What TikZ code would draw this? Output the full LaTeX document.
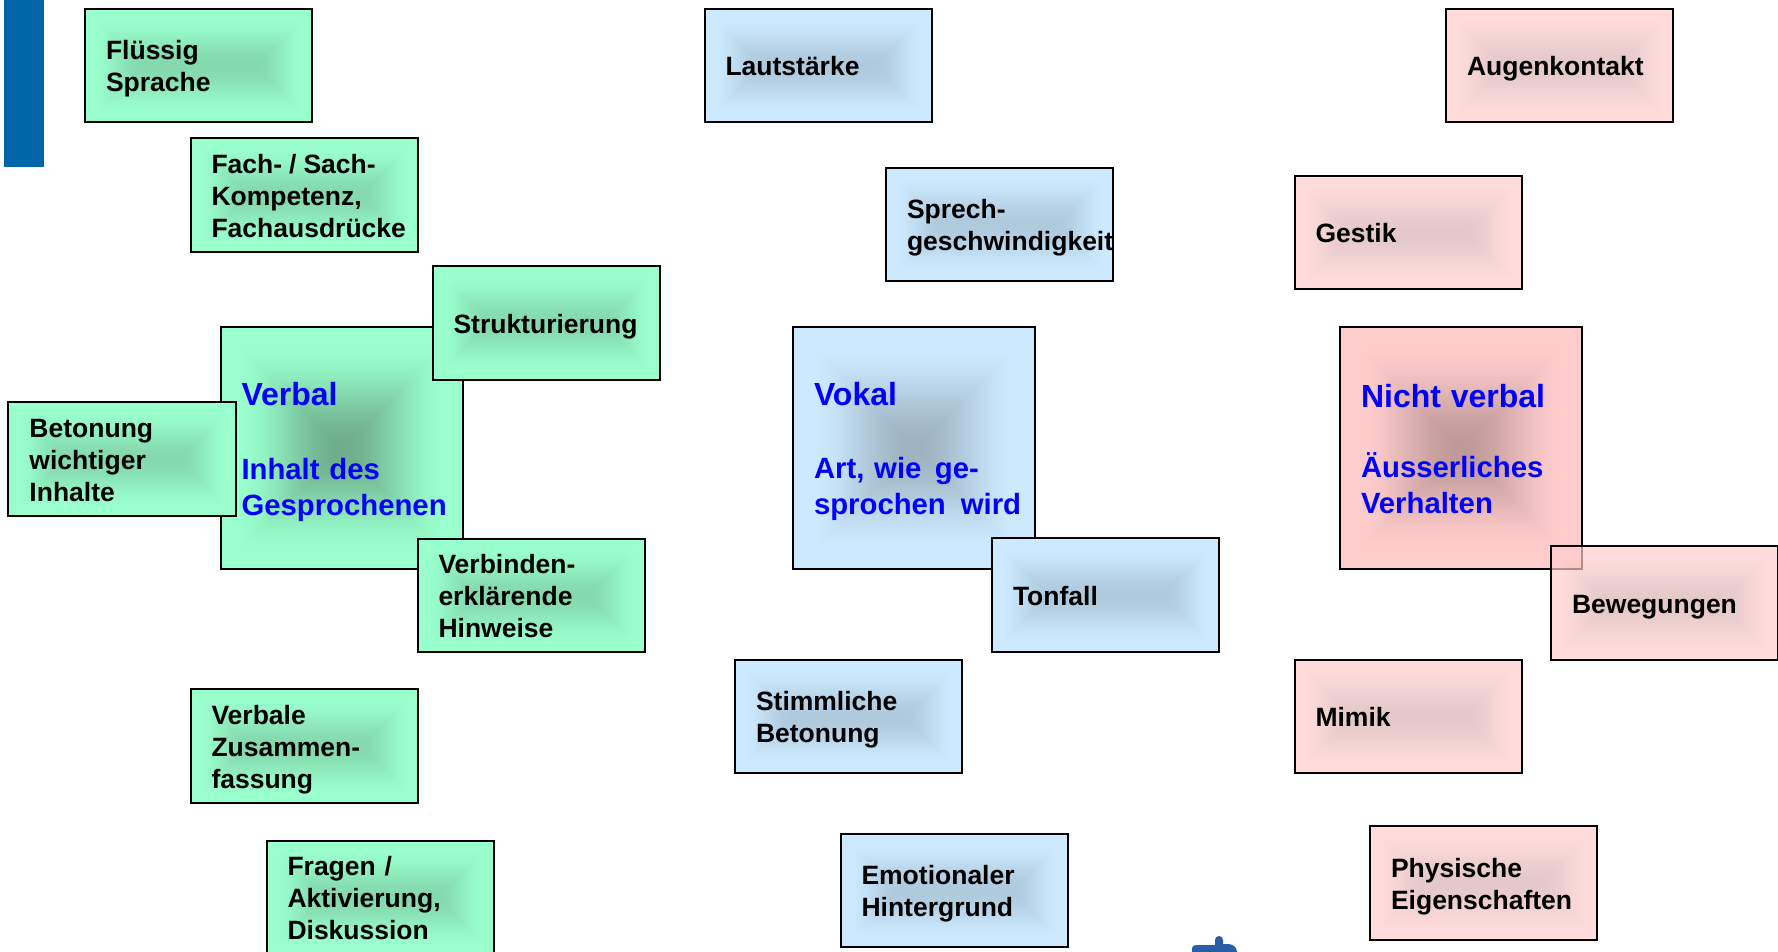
\documentclass[tikz,border=0pt]{standalone}
\usepackage{fontspec}
\setmainfont{Liberation Sans}
\hyphenpenalty=10000
\exhyphenpenalty=10000
\hbadness=10000
\hfuzz=100bp
\definecolor{barblue}{HTML}{0066AA}
\definecolor{logoblue}{HTML}{2A5DA8}
\definecolor{headblue}{HTML}{0000FF}
\newcommand\defshade[9]{\pgfdeclarefunctionalshading{#1}{\pgfpoint{-50bp}{-50bp}}{\pgfpoint{50bp}{50bp}}{}{abs exch abs #2 mul #3 sub 2 copy lt {exch} if pop 25 div 0.86 div dup 1 gt {pop 1} if dup dup mul exch 2 mul 3 exch sub mul dup #7 mul #4 add exch dup #8 mul #5 add exch #9 mul #6 add}}
\defshade{greensmall}{2}{25}{.52}{.85}{.68}{.08}{.15}{.12}
\defshade{greenbig}{1}{0}{.435}{.68}{.55}{.165}{.32}{.25}
\defshade{bluesmall}{2}{25}{.686}{.79}{.867}{.114}{.124}{.133}
\defshade{bluebig}{1}{0}{.616}{.70}{.753}{.184}{.214}{.247}
\defshade{pinksmall}{2}{25}{.855}{.70}{.70}{.145}{.10}{.10}
\defshade{pinkbig}{1}{0}{.75}{.60}{.60}{.25}{.20}{.20}
\newcommand\st{\rule[-5.8bp]{0pt}{32bp}}
\newcommand\bigtop[1]{\rule{0pt}{#1bp}}
\newcommand\bigend{\rule[-11bp]{0pt}{0pt}}
\tikzset{
  x=1bp,y=-1bp,
  card/.style={draw=black,line width=2bp,rectangle,outer sep=0pt,inner ysep=0pt,
    inner xsep=21bp,align=left,text=black,
    font=\bfseries\fontsize{26.5bp}{32bp}\selectfont},
  smallcard/.style={card,minimum width=227bp,minimum height=113.5bp,text width=185bp},
  bigcard/.style={card,minimum width=242bp,minimum height=242bp,text width=200bp,text=headblue,
    font=\bfseries\fontsize{29.3bp}{36bp}\selectfont},
  greenS/.style={smallcard,shading=greensmall},
  blueS/.style={smallcard,shading=bluesmall},
  pinkS/.style={smallcard,shading=pinksmall,fill opacity=.7,text opacity=1},
}
\newcommand\ttl[1]{{\fontsize{32bp}{36bp}\selectfont #1}}
\begin{document}
\begin{tikzpicture}
\useasboundingbox (0,0) rectangle (1778,951);
\fill[white] (0,0) rectangle (1778,951);
\fill[barblue] (4,0) rectangle (44,167);
% large cards
\node[bigcard,shading=greenbig] (verbal) at (341.5,448) {\bigtop{36}\ttl{Verbal}\\[38bp]Inhalt des\\\mbox{Gesprochenen}\bigend};
\node[bigcard,shading=bluebig] (vokal) at (914,448) {\bigtop{35}\ttl{Vokal}\\[37bp]Art, wie\hspace{13.5bp}ge-\\\mbox{sprochen\hspace{15bp}wird}\bigend};
\node[bigcard,shading=pinkbig] (nicht) at (1461,448) {\bigtop{35}\ttl{Nicht verbal}\\[34bp]Äusserliches\\Verhalten\bigend};
% green
\node[greenS] (fluessig) at (198.5,65.5) {\st Flüssig\\\st Sprache};
\node[greenS] (fach) at (304,195) {\st Fach-\hspace{7bp}/\hspace{7bp}Sach-\\\st Kompetenz,\\\st Fachausdrücke};
\node[greenS] (struktur) at (546,323) {\st Strukturierung};
\node[greenS] (betonung) at (122,459) {\st Betonung\\\st wichtiger\\\st Inhalte};
\node[greenS] (verbinden) at (531,595.5) {\st Verbinden-\\\st erklärende\\\st Hinweise};
\node[greenS] (zusammen) at (304,746) {\st Verbale\\\st Zusammen-\\\st fassung};
\node[greenS] (fragen) at (380,897.5) {\st Fragen /\\\st Aktivierung,\\\st Diskussion};
% blue
\node[blueS] (laut) at (818,65.5) {\st Lautstärke};
\node[blueS] (sprech) at (999.5,224.5) {\st Sprech-\\\st geschwindigkeit};
\node[blueS] (tonfall) at (1105.5,595) {\st Tonfall};
\node[blueS] (stimme) at (848.5,716.5) {\st Stimmliche\\\st Betonung};
\node[blueS] (emotion) at (954,890.5) {\st Emotionaler\\\st Hintergrund};
% pink
\node[pinkS] (augen) at (1559.5,65.5) {\st Augenkontakt};
\node[pinkS] (gestik) at (1408,232.5) {\st Gestik};
\node[pinkS] (beweg) at (1664.5,603) {\st Bewegungen};
\node[pinkS] (mimik) at (1408,716.5) {\st Mimik};
\node[pinkS] (physis) at (1483.5,883) {\st Physische\\\st Eigenschaften};
% clipped logo at the lower edge
\fill[logoblue] (1192,952) -- (1192,948) to[out=90,in=180] (1197,945) -- (1215,945) -- (1215,940) to[out=90,in=180] (1219,936) to[out=0,in=90] (1223,940) -- (1223,944) -- (1228,944) to[out=0,in=90] (1237,952) -- cycle;
\end{tikzpicture}
\end{document}
